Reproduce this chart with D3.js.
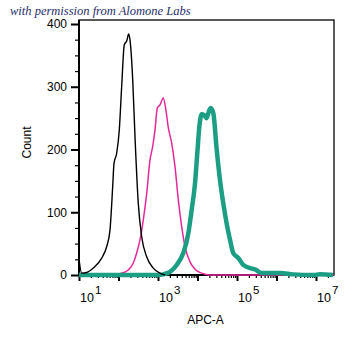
<!DOCTYPE html>
<html>
<head>
<meta charset="utf-8">
<script src="https://cdn.jsdelivr.net/npm/d3@7"></script>
<style>
  body { margin: 0; background: #fff; }
  svg { display: block; }
  text { font-family: "Liberation Sans", Arial, sans-serif; }
</style>
</head>
<body>
<div id="chart-area"></div>
<script>
// values; x as log10 of the APC-A intensity
var blackExp   = [1.0, 1.068, 1.195, 1.362, 1.575, 1.70, 1.785, 1.853, 1.886, 1.954, 2.02, 2.08, 2.147, 2.208, 2.258, 2.29, 2.36, 2.418, 2.50, 2.587, 2.714, 2.88, 3.05, 3.18];
var blackCount = [25, 3, 4, 11, 27, 45, 72, 141, 178, 194, 231, 300, 367, 373, 384, 375, 311, 220, 115, 61, 29, 11, 3, 0];

var pinkExp   = [1.868, 2.038, 2.248, 2.375, 2.46, 2.544, 2.628, 2.714, 2.797, 2.866, 2.924, 2.982, 3.05, 3.134, 3.20, 3.258, 3.347, 3.43, 3.514, 3.60, 3.684, 3.81, 3.937, 4.106, 4.316, 7.45];
var pinkCount = [0, 2, 8, 19, 35, 56, 88, 130, 183, 205, 231, 266, 271, 282, 263, 236, 210, 173, 120, 77, 45, 21, 9, 3, 0, 0];

var greenExp   = [1.0, 3.0, 3.134, 3.304, 3.473, 3.64, 3.767, 3.853, 3.937, 3.995, 4.046, 4.106, 4.165, 4.233, 4.30, 4.334, 4.40, 4.486, 4.57, 4.653, 4.739, 4.823, 4.906, 5.033, 5.16, 5.33, 5.456, 5.625, 6.089, 6.425, 6.93, 7.10, 7.43];
var greenCount = [0, 0, 1, 5, 16, 35, 66, 104, 146, 194, 236, 256, 255, 250, 263, 266, 258, 200, 151, 114, 82, 56, 35, 27, 16, 11, 9, 3, 3, 1, 0, 1, 0];

var xMajor = [1, 2, 3, 4, 5, 6, 7];
var xLabels = [1, 3, 5, 7];
var yMajor = [0, 100, 200, 300, 400];

var margin = { left: 79, right: 21, top: 20, bottom: 73 };
var width = 355 - margin.left - margin.right,
    height = 348 - margin.top - margin.bottom;

var svg = d3.select("#chart-area")
    .append("svg")
    .attr("width", 355)
    .attr("height", 348);

var g = svg.append("g")
    .attr("transform", "translate(" + margin.left + "," + margin.top + ")");

// X Scale (log, 10^1 .. ~10^7.45)
var x = d3.scaleLog()
    .domain([10, Math.pow(10, 7.456)])
    .range([0, width]);

// Y Scale
var y = d3.scaleLinear()
    .domain([0, 400])
    .range([height, 4]);

// minor ticks
var xMinor = [];
for (var k = 1; k <= 7; k++) {
    for (var m = 2; m <= 9; m++) {
        var v = m * Math.pow(10, k);
        if (v <= x.domain()[1]) xMinor.push(v);
    }
}
var yMinor = d3.range(25, 400, 25).filter(function(d){ return d % 100 != 0; });

// frame
g.append("rect")
    .attr("width", width)
    .attr("height", height)
    .attr("fill", "none")
    .attr("stroke", "#000")
    .attr("stroke-width", 1.3);

// X Axis
g.append("g")
    .attr("transform", "translate(0," + height + ")")
    .call(d3.axisBottom(x).tickValues(xMinor).tickSize(3).tickFormat(""))
    .call(function(s){ s.select(".domain").remove(); s.selectAll("line").attr("stroke-width", 1.2); });

g.append("g")
    .attr("transform", "translate(0," + height + ")")
    .call(d3.axisBottom(x).tickValues(xMajor.map(function(e){ return Math.pow(10, e); })).tickSize(6).tickFormat(""))
    .call(function(s){
        s.select(".domain").attr("d", "M0,0H" + width).attr("stroke-width", 2);
        s.selectAll("line").attr("stroke-width", 2);
    });

var xl = g.append("g").selectAll("text")
    .data(xLabels)
    .enter().append("text")
    .attr("x", function(d){ return x(Math.pow(10, d)) + 1; })
    .attr("y", height + 27)
    .attr("font-size", "12.5px")
    .attr("fill", "#000");
xl.append("tspan").text("10");
xl.append("tspan")
    .attr("dy", -8)
    .attr("dx", 1)
    .attr("font-size", "11.5px")
    .text(function(d){ return d; });

// Y Axis
g.append("g")
    .call(d3.axisLeft(y).tickValues(yMinor).tickSize(4).tickFormat(""))
    .call(function(s){ s.select(".domain").remove(); s.selectAll("line").attr("stroke-width", 1.2); });

g.append("g")
    .call(d3.axisLeft(y).tickValues(yMajor).tickSize(8).tickPadding(4))
    .call(function(s){
        s.select(".domain").attr("d", "M0,0V" + height).attr("stroke-width", 2);
        s.selectAll("line").attr("stroke-width", 2);
        s.selectAll("text").attr("font-size", "12px").attr("font-family", "Liberation Sans, Arial, sans-serif");
    });

// labels
g.append("text")
    .attr("x", width / 2 - 1)
    .attr("y", height + 49)
    .attr("font-size", "12px")
    .attr("text-anchor", "middle")
    .text("APC-A");

g.append("text")
    .attr("transform", "rotate(-90)")
    .attr("x", -(height / 2) + 5)
    .attr("y", -48)
    .attr("font-size", "12px")
    .attr("text-anchor", "middle")
    .text("Count");

svg.append("text")
    .attr("x", 10)
    .attr("y", 15)
    .style("font-family", "'Liberation Serif', 'DejaVu Serif', serif")
    .style("font-style", "italic")
    .style("font-size", "12.5px")
    .attr("fill", "#1f2d6b")
    .text("with permission from Alomone Labs");

// histograms
var line = d3.line()
    .x(function(d){ return x(Math.pow(10, d[0])); })
    .y(function(d){ return y(d[1]); })
    .curve(d3.curveMonotoneX);

function pairs(xs, ys) {
    return xs.map(function(e, i){ return [e, ys[i]]; });
}

var plot = g.append("g");

plot.append("path")
    .attr("d", line(pairs(pinkExp, pinkCount)))
    .attr("fill", "none")
    .attr("stroke", "#e5299b")
    .attr("stroke-width", 1.5);

plot.append("path")
    .attr("d", line(pairs(greenExp, greenCount)))
    .attr("fill", "none")
    .attr("stroke", "#1c9e84")
    .attr("stroke-width", 4.5)
    .attr("stroke-linejoin", "round");

plot.append("path")
    .attr("d", line(pairs(blackExp, blackCount)))
    .attr("fill", "none")
    .attr("stroke", "#000")
    .attr("stroke-width", 1.4);
</script>
</body>
</html>
